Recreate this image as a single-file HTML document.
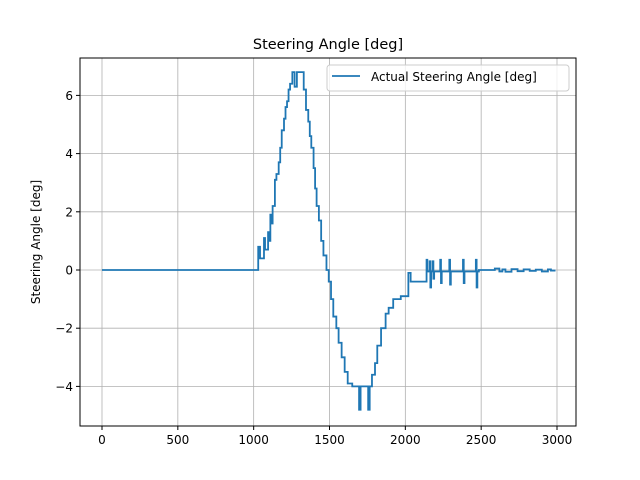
<!DOCTYPE html>
<html><head><meta charset="utf-8"><style>
html,body{margin:0;padding:0;background:#fff}
svg{display:block;font-family:"DejaVu Sans","Liberation Sans",sans-serif}
</style></head><body>
<svg id="chart" width="640" height="480" viewBox="0 0 640 480">
<rect width="640" height="480" fill="#fff"/>
<text x="328" y="49" text-anchor="middle" font-size="14.5">Steering Angle [deg]</text>
<g id="grid"></g>
<g id="ticks"></g>
<g id="series"></g>
<rect x="80" y="58" width="496" height="368" fill="none" stroke="#000" stroke-width="1"/>
<text transform="translate(40,242) rotate(-90)" text-anchor="middle" font-size="12">Steering Angle [deg]</text>
<g>
<rect x="327" y="65" width="242" height="26" rx="3" fill="#fff" fill-opacity="0.8" stroke="#ccc"/>
<line x1="332" y1="76" x2="360" y2="76" stroke="#1f77b4" stroke-width="1.8"/>
<text x="371" y="81" font-size="12">Actual Steering Angle [deg]</text>
</g>
</svg>
<script>
const xTicks=[0,500,1000,1500,2000,2500,3000];
const yTicks=[-4,-2,0,2,4,6];
const stepX=[
0,1030,1042,1068,1075,1095,1102,1110,1118,1125,
1140,1150,1165,1175,1185,1200,1210,1220,1230,1240,
1255,1270,1285,1330,1345,1360,1370,1380,1395,1405,
1415,1430,1445,1460,1480,1495,1510,1525,1545,1560,
1580,1600,1620,1650,1695,1705,1755,1765,1780,1800,
1815,1840,1870,1890,1920,1970,2020,2035,2140,2145,
2160,2165,2170,2180,2185,2190,2230,2235,2240,2290,
2295,2300,2380,2385,2390,2465,2470,2475,2485,2590,
2620,2640,2660,2700,2740,2780,2820,2860,2900,2940,
2960];
const stepY=[
0,0.8,0.4,1.1,0.7,1.3,1.0,1.9,1.6,2.2,
3.1,3.3,3.7,4.2,4.8,5.2,5.6,5.8,6.2,6.4,
6.8,6.3,6.8,6.2,5.5,5.1,4.6,4.2,3.5,2.8,
2.2,1.7,1.0,0.5,0.0,-0.4,-1.0,-1.6,-2.0,-2.5,
-3.0,-3.5,-3.9,-4.0,-4.8,-4.0,-4.8,-4.0,-3.6,-3.2,
-2.6,-2.0,-1.5,-1.3,-1.0,-0.9,-0.1,-0.4,0.35,-0.05,
0.3,-0.6,-0.05,0.3,-0.3,-0.05,0.35,-0.45,-0.05,0.35,
-0.5,-0.05,0.35,-0.45,-0.05,0.35,-0.6,-0.05,0.0,0.05,
-0.05,0.02,-0.06,0.03,-0.04,0.02,-0.03,0.01,-0.05,0.02,
-0.02];
const endX=2990;
const NS='http://www.w3.org/2000/svg';
const X0=80,X1=576,Y0=58,Y1=426;
function sx(v){return 102+v*(557-102)/3000;}
function sy(v){return 270-v*29.1;}
const grid=document.getElementById('grid'),ticks=document.getElementById('ticks'),series=document.getElementById('series');
xTicks.forEach(t=>{
  const l=document.createElementNS(NS,'line');
  l.setAttribute('x1',sx(t));l.setAttribute('x2',sx(t));l.setAttribute('y1',Y0);l.setAttribute('y2',Y1);
  l.setAttribute('stroke','#b0b0b0');l.setAttribute('stroke-width','0.8');
  
  
  grid.appendChild(l);
  const tk=document.createElementNS(NS,'line');
  tk.setAttribute('x1',sx(t));tk.setAttribute('x2',sx(t));tk.setAttribute('y1',Y1);tk.setAttribute('y2',Y1+4);tk.setAttribute('stroke','#000');
  
  
  ticks.appendChild(tk);
  const tx=document.createElementNS(NS,'text');
  tx.setAttribute('x',sx(t));tx.setAttribute('y',Y1+18);tx.setAttribute('text-anchor','middle');tx.setAttribute('font-size','12');
  tx.textContent=t;
  
  
  ticks.appendChild(tx);
});
yTicks.forEach(t=>{
  const l=document.createElementNS(NS,'line');
  l.setAttribute('x1',X0);l.setAttribute('x2',X1);l.setAttribute('y1',sy(t));l.setAttribute('y2',sy(t));
  l.setAttribute('stroke','#b0b0b0');l.setAttribute('stroke-width','0.8');
  
  
  grid.appendChild(l);
  const tk=document.createElementNS(NS,'line');
  tk.setAttribute('x1',X0-4);tk.setAttribute('x2',X0);tk.setAttribute('y1',sy(t));tk.setAttribute('y2',sy(t));tk.setAttribute('stroke','#000');
  
  
  ticks.appendChild(tk);
  const tx=document.createElementNS(NS,'text');
  tx.setAttribute('x',X0-7);tx.setAttribute('y',sy(t)+4.5);tx.setAttribute('text-anchor','end');tx.setAttribute('font-size','12');
  tx.textContent=(t<0?'\u2212'+(-t):t);
  
  
  ticks.appendChild(tx);
});
let d='';
const n=Math.min(stepX.length,stepY.length);
for(let i=0;i<n;i++){
  const x=sx(stepX[i]),y=sy(stepY[i]);
  if(i===0)d+='M'+x+','+y;
  else d+=' L'+x+','+sy(stepY[i-1])+' L'+x+','+y;
}
d+=' L'+sx(endX)+','+sy(stepY[n-1]);
const p=document.createElementNS(NS,'path');
p.setAttribute('d',d);p.setAttribute('fill','none');p.setAttribute('stroke','#1f77b4');p.setAttribute('stroke-width','1.8');


series.appendChild(p);
</script>
</body></html>
